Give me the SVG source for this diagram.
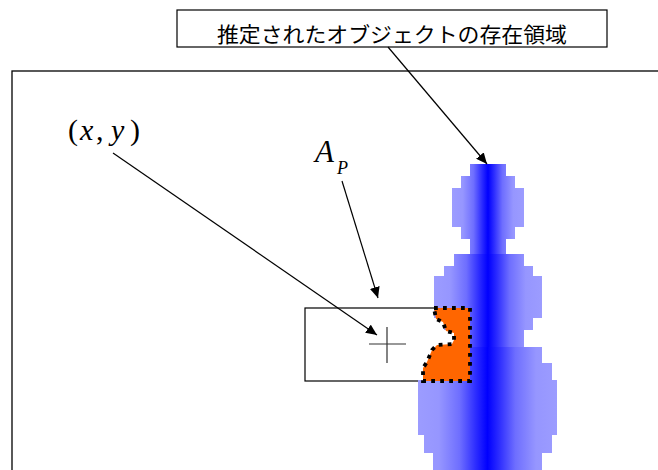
<svg xmlns="http://www.w3.org/2000/svg" width="658" height="470" viewBox="0 0 658 470">
<style>
.ln{stroke:#000;stroke-width:1.2;fill:none}
.math{font-family:"Liberation Serif","Times New Roman",serif;fill:#000}
.jp{font-family:"Liberation Sans","Noto Sans CJK JP",sans-serif;font-size:21px;fill:#000}
</style>
<defs>
<marker id="ah" markerUnits="userSpaceOnUse" markerWidth="12" markerHeight="10" refX="11" refY="5" orient="auto">
<path d="M0,0 L11,5 L0,10 Z" fill="#000"/>
</marker>
<linearGradient id="gb" x1="0" y1="0" x2="1" y2="0">
<stop offset="0" stop-color="#9c9cff"/><stop offset="0.15" stop-color="#9696ff"/><stop offset="0.3" stop-color="#6e6eff"/><stop offset="0.42" stop-color="#2a2aff"/><stop offset="0.5" stop-color="#0000ff"/><stop offset="0.58" stop-color="#2a2aff"/><stop offset="0.7" stop-color="#6e6eff"/><stop offset="0.85" stop-color="#9696ff"/><stop offset="1" stop-color="#9c9cff"/>
</linearGradient>
<linearGradient id="g1" href="#gb" gradientUnits="userSpaceOnUse" x1="452" y1="0" x2="524" y2="0"/>
<linearGradient id="g2" href="#gb" gradientUnits="userSpaceOnUse" x1="434" y1="0" x2="542" y2="0"/>
<linearGradient id="g3" href="#gb" gradientUnits="userSpaceOnUse" x1="418" y1="0" x2="557" y2="0"/>
</defs>
<g id="frame">
<rect x="12" y="71" width="700" height="500" fill="none" stroke="#000" stroke-width="1.3"/>
</g>
<g id="window">
<rect x="305" y="308" width="165" height="73" class="ln"/>
</g>
<g id="region">
<path d="M470,164 H506 V176 H515 V188 H524 V227 H515 V239 H506 V254 H470 V239 H461 V227 H452 V188 H461 V176 H470 Z" fill="url(#g1)"/>
<path d="M454,254 H524 V266 H533 V276 H542 V318 H533 V330 H524 V347 H454 V330 H444 V318 H434 V276 H444 V266 H454 Z" fill="url(#g2)"/>
<path d="M433,347 H542 V363 H552 V380 H557 V435 H552 V453 H542 V472 H433 V453 H424 V435 H418 V380 H424 V363 H433 Z" fill="url(#g3)"/>
</g>
<g id="overlap">
<path d="M434,308 L470,308 L470,381 L423,381 L423,368 L427,362 L432,350 L437,345 L452,344 L454,340 L454,333 L446,331 L443,322 L436,319 Z" fill="#ff6600" stroke="#000" stroke-width="3.8" stroke-dasharray="3.8 5.2"/>
</g>
<g id="center">
<path d="M369,344 H406 M387,327 V363" stroke="#333" stroke-width="1.2" fill="none"/>
</g>
<g id="label-box">
<rect x="177" y="10" width="430" height="37" fill="#fff" stroke="#000" stroke-width="1.2"/>
<text class="jp" x="392" y="42" text-anchor="middle" textLength="350" lengthAdjust="spacingAndGlyphs">推定されたオブジェクトの存在領域</text>
</g>
<g id="label-xy">
<text class="math" font-size="30" y="140"><tspan x="68">(</tspan><tspan x="80" font-style="italic">x</tspan><tspan x="96">,</tspan><tspan x="111" font-style="italic">y</tspan><tspan x="130">)</tspan></text>
</g>
<g id="label-ap">
<text class="math" font-style="italic" font-size="31" x="315" y="162">A<tspan font-size="18" x="337" y="174">P</tspan></text>
</g>
<g id="connectors">
<line x1="388" y1="47" x2="487" y2="164" class="ln" marker-end="url(#ah)"/>
<line x1="113" y1="153" x2="377" y2="335" class="ln" marker-end="url(#ah)"/>
<line x1="342" y1="181" x2="378" y2="298" class="ln" marker-end="url(#ah)"/>
</g>
</svg>
